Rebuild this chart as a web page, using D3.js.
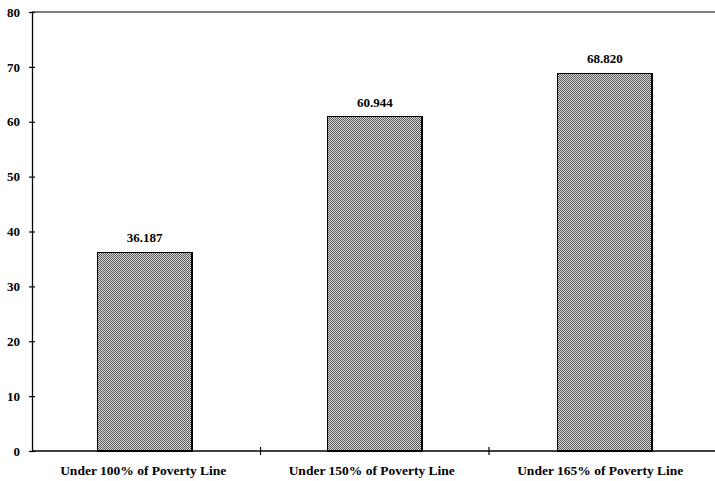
<!DOCTYPE html>
<html>
<head>
<meta charset="utf-8">
<script src="https://cdn.jsdelivr.net/npm/d3@7"></script>
<style>
  html, body { margin: 0; padding: 0; background: #fff; }
  svg { display: block; }
</style>
</head>
<body>
<script>
// Share of population below poverty thresholds
const categories = ["Under 100% of Poverty Line", "Under 150% of Poverty Line", "Under 165% of Poverty Line"];
const values = [36.187, 60.944, 68.820];
const valueLabels = ["36.187", "60.944", "68.820"];
const yTicks = [0, 10, 20, 30, 40, 50, 60, 70, 80];

const W = 715, H = 481;
const margin = { top: 12, right: 0, bottom: 30, left: 32 };

const svg = d3.select("body").append("svg")
  .attr("width", W).attr("height", H);

// fine checkerboard stipple for the bars
const defs = svg.append("defs");
const pat = defs.append("pattern")
  .attr("id", "stipple")
  .attr("patternUnits", "userSpaceOnUse")
  .attr("width", 2).attr("height", 2);
pat.append("rect").attr("width", 2).attr("height", 2).attr("fill", "#d8d8d8");
pat.append("rect").attr("x", 0).attr("y", 0).attr("width", 1).attr("height", 1).attr("fill", "#5a5a5a");
pat.append("rect").attr("x", 1).attr("y", 1).attr("width", 1).attr("height", 1).attr("fill", "#5a5a5a");

const x = d3.scaleBand()
  .domain(categories)
  .range([margin.left, margin.left + 685.5])
  .paddingInner(0.59)
  .paddingOuter(0.285);

const band = d3.scaleBand()
  .domain(categories)
  .range([margin.left, margin.left + 685.5]);

const y = d3.scaleLinear()
  .domain([0, 80])
  .range([H - margin.bottom, margin.top]);

const font = "'Liberation Serif', 'Times New Roman', serif";

// top frame line
svg.append("line")
  .attr("x1", margin.left).attr("x2", W)
  .attr("y1", y(80)).attr("y2", y(80))
  .attr("stroke", "#000").attr("stroke-width", 1.2);

// bars
svg.selectAll("rect.bar")
  .data(values)
  .enter().append("rect")
  .attr("class", "bar")
  .attr("x", (d, i) => x(categories[i]))
  .attr("width", x.bandwidth())
  .attr("y", d => y(d))
  .attr("height", d => y(0) - y(d))
  .attr("fill", "url(#stipple)")
  .attr("stroke", "#000")
  .attr("stroke-width", 1.5)
  .attr("shape-rendering", "crispEdges");

// value labels
svg.selectAll("text.val")
  .data(values)
  .enter().append("text")
  .attr("class", "val")
  .attr("x", (d, i) => x(categories[i]) + x.bandwidth() / 2)
  .attr("y", d => y(d) - 10)
  .attr("text-anchor", "middle")
  .attr("font-family", font)
  .attr("font-size", 13)
  .attr("font-weight", "bold")
  .text((d, i) => valueLabels[i]);

// y axis
const yAxis = svg.append("g")
  .attr("transform", `translate(${margin.left},0)`)
  .call(d3.axisLeft(y).tickValues(yTicks).tickSize(3).tickSizeOuter(0));
yAxis.select(".domain").attr("stroke", "#000").attr("stroke-width", 1.3);
yAxis.selectAll(".tick line").attr("x2", 3).attr("x1", -3).attr("stroke-width", 1.2);
yAxis.selectAll(".tick text")
  .attr("x", -12)
  .attr("font-family", font)
  .attr("font-size", 13)
  .attr("font-weight", "bold")
  .attr("fill", "#000");

// x axis
const xAxis = svg.append("g")
  .attr("transform", `translate(0,${y(0)})`);
xAxis.append("line")
  .attr("x1", margin.left).attr("x2", W)
  .attr("stroke", "#000").attr("stroke-width", 1.3);
// separators between categories
xAxis.selectAll("line.sep")
  .data(categories.slice(1))
  .enter().append("line")
  .attr("class", "sep")
  .attr("x1", d => band(d)).attr("x2", d => band(d))
  .attr("y1", -4).attr("y2", 4)
  .attr("stroke", "#000").attr("stroke-width", 1.2);
xAxis.selectAll("text.cat")
  .data(categories)
  .enter().append("text")
  .attr("class", "cat")
  .attr("x", d => band(d) + band.bandwidth() / 2 - 3)
  .attr("y", 24)
  .attr("text-anchor", "middle")
  .attr("font-family", font)
  .attr("font-size", 13.5)
  .attr("font-weight", "bold")
  .text(d => d);
</script>
</body>
</html>
